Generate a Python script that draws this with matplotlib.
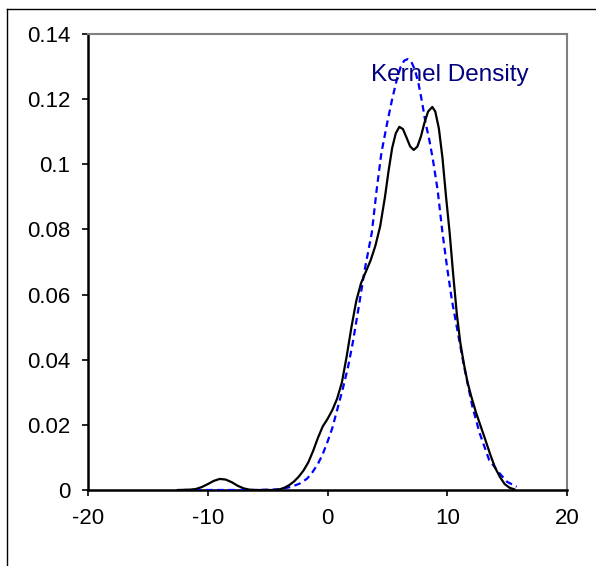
import matplotlib
matplotlib.use('agg')
import matplotlib.pyplot as plt
from matplotlib.lines import Line2D

plt.rcParams['font.family'] = ['Liberation Sans', 'DejaVu Sans']
plt.rcParams['axes.unicode_minus'] = False

# ---- data ----
hist_x = [-12.5, -11.5, -11.0, -10.5, -10.0, -9.5, -9.0, -8.5, -8.0, -7.5,
          -7.0, -6.5, -6.0, -4.5, -4.0, -3.6, -3.2, -2.8, -2.4, -2.0,
          -1.6, -1.2, -0.8, -0.4, 0.0, 0.4, 0.8, 1.2, 1.6, 2.0,
          2.4, 2.8, 3.2, 3.6, 4.0, 4.4, 4.8, 5.1, 5.4, 5.7,
          6.0, 6.3, 6.6, 6.9, 7.2, 7.5, 7.8, 8.1, 8.4, 8.75,
          9.0, 9.3, 9.6, 9.9, 10.2, 10.5, 10.8, 11.1, 11.4, 11.7,
          12.0, 12.4, 12.8, 13.2, 13.6, 14.0, 14.4, 14.8, 15.2, 15.6]
hist_y = [0.0, 0.0001, 0.0003, 0.0009, 0.0018, 0.0028, 0.0034, 0.0032, 0.0024, 0.0013,
          0.0005, 0.0001, 0.0, 0.0, 0.0002, 0.0007, 0.0015, 0.0026, 0.0041, 0.006,
          0.0085, 0.012, 0.016, 0.0195, 0.0218, 0.0245, 0.028, 0.033, 0.041, 0.050,
          0.058, 0.0635, 0.067, 0.0705, 0.075, 0.081, 0.090, 0.098, 0.105, 0.1095,
          0.1115, 0.1108, 0.1082, 0.1055, 0.1044, 0.1054, 0.1085, 0.1128, 0.1162, 0.1176,
          0.1162, 0.111, 0.102, 0.090, 0.079, 0.066, 0.054, 0.045, 0.0385, 0.033,
          0.0288, 0.0238, 0.0195, 0.0152, 0.0108, 0.0068, 0.004, 0.0018, 0.0007, 0.0002]

kde_x = [-12.0, -9.0, -6.0, -4.0, -3.0, -2.3, -1.7, -1.25, -0.8, -0.4,
         0.0, 0.4, 0.8, 1.25, 1.7, 2.1, 2.6, 3.1, 3.7, 4.1,
         4.5, 5.0, 5.4, 5.8, 6.1, 6.4, 6.7, 7.0, 7.3, 7.6,
         7.9, 8.2, 8.5, 8.8, 9.2, 9.6, 10.0, 10.4, 10.8, 11.4,
         12.1, 12.7, 13.5, 14.4, 15.0, 15.8]
kde_y = [0.0, 0.0, 0.0, 0.0002, 0.001, 0.002, 0.0035, 0.0055, 0.008, 0.011,
         0.0148, 0.019, 0.0245, 0.0307, 0.0375, 0.045, 0.056, 0.0675, 0.079, 0.092,
         0.1035, 0.113, 0.12, 0.1262, 0.1298, 0.1318, 0.1323, 0.1315, 0.129, 0.1248,
         0.119, 0.1125, 0.1075, 0.1015, 0.092, 0.079, 0.068, 0.058, 0.050, 0.038,
         0.0256, 0.0175, 0.0092, 0.005, 0.0025, 0.001]

x_ticks = [-20, -10, 0, 10, 20]
y_ticks = [0, 0.02, 0.04, 0.06, 0.08, 0.1, 0.12, 0.14]
y_labels = ['0', '0.02', '0.04', '0.06', '0.08', '0.1', '0.12', '0.14']
label = 'Kernel Density'

fig = plt.figure(figsize=(5.96, 5.66), dpi=100)
ax = fig.add_axes([88 / 596, 1 - 490 / 566, (567 - 88) / 596, (490 - 34) / 566])

ax.plot(kde_x, kde_y, color='#0000ff', lw=1.6, ls=(0, (3, 2)), zorder=3)
ax.plot(hist_x, hist_y, color='black', lw=1.6, zorder=4, solid_joinstyle='round')

ax.set_xlim(-20, 20)
ax.set_ylim(0, 0.14)
ax.set_xticks(x_ticks)
ax.set_yticks(y_ticks)
ax.set_yticklabels(y_labels)
ax.tick_params(direction='out', length=4.3, width=1.2, labelsize=16, pad=8.5)

for s in ['left', 'bottom']:
    ax.spines[s].set_linewidth(1.8)
    ax.spines[s].set_color('black')
for s in ['top', 'right']:
    ax.spines[s].set_linewidth(1.5)
    ax.spines[s].set_color('#808080')

ax.text(3.67, 0.1274, label, color='#000080', fontsize=17.5, va='center', ha='left')

# outer chart border (top and left edges visible)
fig.add_artist(Line2D([7 / 596, 1.0], [1 - 9 / 566, 1 - 9 / 566], color='black', lw=1.0))
fig.add_artist(Line2D([7 / 596, 7 / 596], [0.0, 1 - 9 / 566], color='black', lw=1.0))

fig.savefig('out.png', dpi=100)
